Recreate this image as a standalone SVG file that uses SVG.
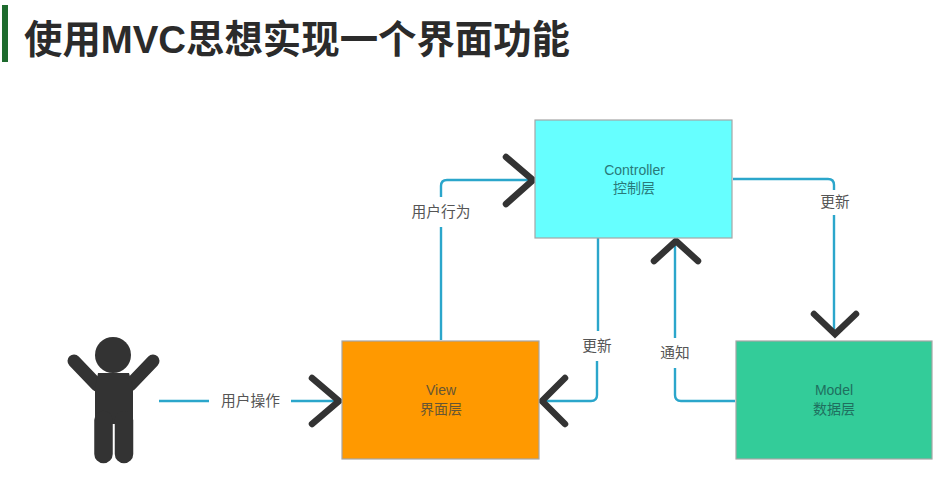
<svg xmlns="http://www.w3.org/2000/svg" width="943" height="479" viewBox="0 0 943 479">
<style>
text{font-family:"Liberation Sans","Noto Sans CJK SC",sans-serif}
.box{stroke:#a6a6a6;stroke-width:1.2}
.n{font-size:14px;fill:#2a7a7a;text-anchor:middle}
.l{font-size:14.700px;fill:#555;text-anchor:middle}
.c{fill:none;stroke:#2ba6cb;stroke-width:2.4}
.a{fill:none;stroke:#333;stroke-width:6.5;stroke-linecap:round}
</style>
<rect x="2" y="5" width="6" height="57" fill="#1e6b2e"/>
<text x="24" y="53" font-size="39" font-weight="700" fill="#2b2b2b" textLength="546" lengthAdjust="spacingAndGlyphs">使用MVC思想实现一个界面功能</text>

<g id="connectors">
<path class="c" d="M159 401H209M291 401H338"/>
<path class="c" d="M441 340V227M441 197V186Q441 180 447 180H532"/>
<path class="c" d="M598 238V331M597 361V395Q597 401 591 401H543"/>
<path class="c" d="M675 240V338M675 368V395Q675 401 681 401H735"/>
<path class="c" d="M733 179H828Q834 179 834 185V190M834 215V335"/>
<path class="a" d="M312 378L339 401L312 424"/>
<path class="a" d="M506 157L533 180L506 204"/>
<path class="a" d="M565 378L542 401L565 424"/>
<path class="a" d="M654 261L676 241L698 261"/>
<path class="a" d="M814 314L835 334L856 314"/>
</g>

<g id="user">
<circle cx="113" cy="355" r="18" fill="#333"/>
<path d="M74 361L97 385M153 361L130 385" fill="none" stroke="#333" stroke-width="13" stroke-linecap="round"/>
<path d="M98 373H129L133 388V424H95V388Z" fill="#333"/>
<path d="M103.500 420V454M124 420V454" stroke="#333" stroke-width="18.500" stroke-linecap="round" fill="none"/>
<text x="250.500" y="406" class="l">用户操作</text>
</g>

<g id="view">
<rect class="box" x="342" y="341" width="197" height="118" fill="#ff9900"/>
<text class="n" x="441" y="395" style="fill:#665533">View</text>
<text class="n" x="441" y="414" style="fill:#665533">界面层</text>
</g>
<g id="controller">
<rect class="box" x="535" y="120" width="197" height="118" fill="#66ffff"/>
<text class="n" x="634.500" y="175">Controller</text>
<text class="n" x="634" y="193">控制层</text>
</g>
<g id="model">
<rect class="box" x="736" y="341" width="196" height="118" fill="#33cc99"/>
<text class="n" x="834" y="395" style="fill:#1f6f5f">Model</text>
<text class="n" x="834" y="414" style="fill:#1f6f5f">数据层</text>
</g>
<g id="labels">
<text x="441" y="217" class="l">用户行为</text>
<text x="597" y="351" class="l">更新</text>
<text x="675" y="358" class="l">通知</text>
<text x="835" y="207" class="l">更新</text>
</g>
</svg>
